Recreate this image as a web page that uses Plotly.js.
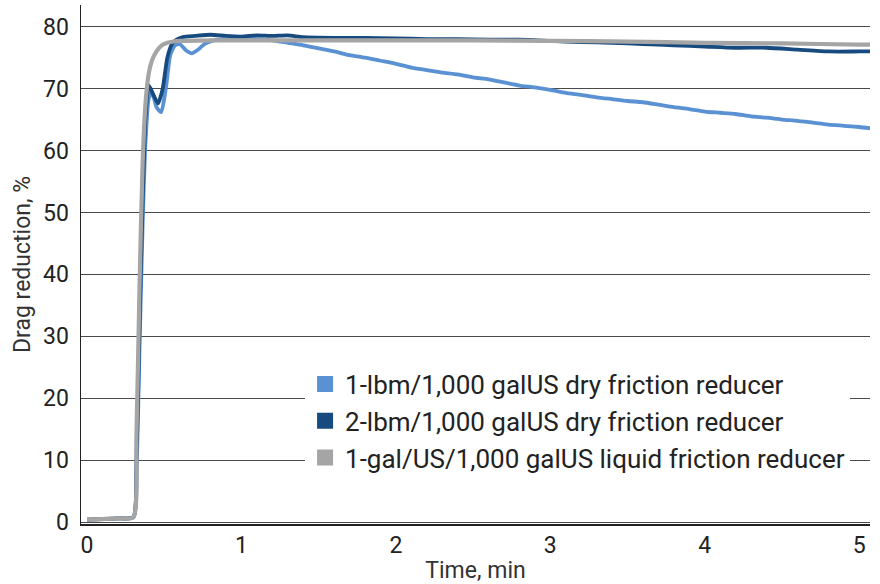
<!DOCTYPE html>
<html>
<head>
<meta charset="utf-8">
<script src="https://cdn.plot.ly/plotly-3.0.1.min.js"></script>
<style>html,body{margin:0;padding:0;background:#fff;}#chart{width:880px;height:584px;}</style>
</head>
<body>
<div id="chart"></div>
<script>
var seriesNames = [
  "1-lbm/1,000 galUS dry friction reducer",
  "2-lbm/1,000 galUS dry friction reducer",
  "1-gal/US/1,000 galUS liquid friction reducer"
];
var colors = ["#5a91d2", "#174a7e", "#a5a5a5"];

var t1 = [0, 0.1, 0.2, 0.30, 0.32, 0.34, 0.36, 0.38, 0.40, 0.42, 0.45, 0.48, 0.51, 0.54, 0.57, 0.60, 0.64, 0.68, 0.72, 0.76, 0.82, 0.9, 1.0, 1.1, 1.2, 1.3, 1.4, 1.5, 1.6, 1.7, 1.8, 1.9, 2.0, 2.1, 2.2, 2.3, 2.4, 2.5, 2.6, 2.7, 2.8, 2.9, 3.0, 3.1, 3.2, 3.3, 3.4, 3.5, 3.6, 3.7, 3.8, 3.9, 4.0, 4.1, 4.2, 4.3, 4.4, 4.5, 4.6, 4.7, 4.8, 4.9, 5.0, 5.07];
var v1 = [0.4, 0.5, 0.6, 0.8, 8, 28, 48, 62, 68.5, 69.5, 67, 66.2, 70, 75.5, 77, 77.2, 76.2, 75.7, 76.3, 77.2, 77.8, 77.9, 78.0, 78.0, 77.8, 77.4, 77.0, 76.5, 76.0, 75.4, 75.0, 74.5, 74.0, 73.4, 73.0, 72.6, 72.3, 71.8, 71.5, 71.0, 70.5, 70.2, 69.8, 69.3, 69.0, 68.6, 68.3, 68.0, 67.8, 67.4, 67.0, 66.7, 66.3, 66.1, 65.9, 65.5, 65.3, 65.0, 64.8, 64.5, 64.2, 64.0, 63.8, 63.6];

var t2 = [0, 0.1, 0.2, 0.30, 0.32, 0.34, 0.36, 0.38, 0.40, 0.43, 0.46, 0.49, 0.52, 0.55, 0.58, 0.62, 0.7, 0.8, 0.9, 1.0, 1.1, 1.2, 1.3, 1.4, 1.6, 1.8, 2.0, 2.2, 2.4, 2.6, 2.8, 3.0, 3.2, 3.4, 3.6, 3.8, 4.0, 4.2, 4.4, 4.6, 4.8, 5.0, 5.07];
var v2 = [0.4, 0.5, 0.6, 0.8, 10, 32, 52, 66, 70.5, 69, 67.6, 70, 75, 77.2, 77.9, 78.3, 78.5, 78.7, 78.5, 78.4, 78.6, 78.5, 78.6, 78.3, 78.2, 78.2, 78.1, 78.0, 78.0, 77.9, 77.9, 77.7, 77.5, 77.4, 77.2, 77.0, 76.8, 76.6, 76.6, 76.3, 76.0, 76.0, 76.0];

var t3 = [0, 0.1, 0.2, 0.30, 0.32, 0.34, 0.36, 0.38, 0.40, 0.42, 0.45, 0.48, 0.52, 0.56, 0.6, 0.8, 1.0, 1.5, 2.0, 2.5, 3.0, 3.5, 4.0, 4.5, 5.0, 5.07];
var v3 = [0.4, 0.5, 0.6, 0.8, 14, 38, 58, 68, 72.5, 74.5, 76, 76.9, 77.4, 77.6, 77.7, 77.8, 77.8, 77.8, 77.8, 77.8, 77.7, 77.6, 77.4, 77.3, 77.1, 77.1];

var xTicks = [0, 1, 2, 3, 4, 5];
var yTicks = [0, 10, 20, 30, 40, 50, 60, 70, 80];

var FONT = "Roboto, 'Liberation Sans', sans-serif";

var times = [t1, t2, t3];
var vals = [v1, v2, v3];
var widths = [3.8, 3.8, 4.2];
var data = [];
for (var i = 0; i < 3; i++) {
  data.push({
    x: times[i], y: vals[i], type: "scatter", mode: "lines",
    line: {color: colors[i], width: widths[i], shape: "spline", smoothing: 0.6},
    showlegend: false, hoverinfo: "skip"
  });
}
for (var j = 0; j < 3; j++) {
  data.push({
    x: [null], y: [null], type: "scatter", mode: "markers",
    marker: {symbol: "square", size: 19, color: colors[j]},
    name: seriesNames[j], showlegend: true
  });
}

var layout = {
  width: 880, height: 584,
  margin: {l: 81, r: 10, t: 5, b: 60},
  paper_bgcolor: "#fff", plot_bgcolor: "#fff",
  font: {family: FONT, color: "#222", size: 20},
  xaxis: {
    range: [-0.039, 5.07], tickvals: xTicks, ticktext: xTicks.map(String),
    showgrid: false, zeroline: false, showline: true, linecolor: "#222", linewidth: 1.5,
    ticks: "", tickfont: {size: 23, color: "#222"},
    title: {text: "Time, min", font: {size: 23, color: "#333"}, standoff: 4}
  },
  yaxis: {
    range: [-0.3, 83.5], tickvals: yTicks, ticktext: yTicks.map(String),
    showgrid: true, gridcolor: "#4a4a4a", gridwidth: 1, zeroline: false,
    showline: true, linecolor: "#222", linewidth: 1.5,
    ticks: "", tickfont: {size: 23, color: "#222"}, ticklabelstandoff: 6,
    title: {text: "Drag reduction, %", font: {size: 23, color: "#333"}, standoff: 6}
  },
  legend: {
    x: 0.284, y: 0.315, xanchor: "left", yanchor: "top",
    bgcolor: "#fff", borderwidth: 0,
    font: {size: 26, color: "#222", family: FONT},
    itemsizing: "trace"
  },
  showlegend: true
};

Plotly.newPlot("chart", data, layout, {displayModeBar: false, staticPlot: true});
</script>
</body>
</html>
